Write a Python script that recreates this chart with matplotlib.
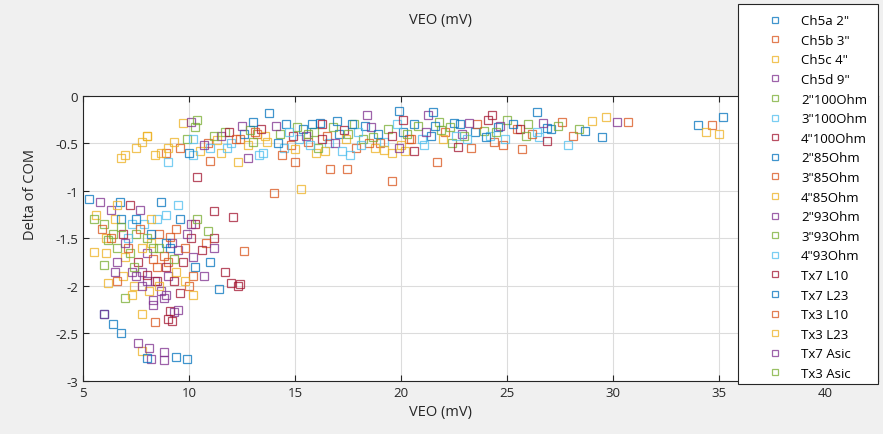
import matplotlib
matplotlib.use("Agg")
import matplotlib.pyplot as plt
from matplotlib.patches import Rectangle

plt.rcParams["font.family"] = ["Open Sans", "DejaVu Sans"]

# MATLAB default colour order, cycled over the 19 series
matlab_colors = ["#0072BD", "#D95319", "#EDB120", "#7E2F8E",
                 "#77AC30", "#4DBEEE", "#A2142F"]

labels = ['Ch5a 2"', 'Ch5b 3"', 'Ch5c 4"', 'Ch5d 9"',
          '2"100Ohm', '3"100Ohm', '4"100Ohm',
          '2"85Ohm', '3"85Ohm', '4"85Ohm',
          '2"93Ohm', '3"93Ohm', '4"93Ohm',
          'Tx7 L10', 'Tx7 L23', 'Tx3 L10', 'Tx3 L23', 'Tx7 Asic', 'Tx3 Asic']

ch5a_x = [13.8, 14.6, 15.4, 16.2, 17.1, 18.3, 19.9, 20.6, 21.4, 22.8, 23.5, 24.6, 26.4, 26.9, 34.0, 35.2, 6.4, 6.8]
ch5a_y = [-0.18, -0.30, -0.35, -0.28, -0.40, -0.32, -0.16, -0.30, -0.42, -0.30, -0.38, -0.33, -0.17, -0.34, -0.31, -0.22, -2.40, -2.50]

ch5b_x = [9.6, 10.9, 12.4, 13.2, 14.0, 14.8, 15.6, 16.5, 17.9, 19.0, 20.4, 22.1, 23.3, 24.4, 25.5, 27.6, 28.1, 8.4, 9.0, 8.6]
ch5b_y = [-0.55, -0.50, -0.45, -0.40, -1.02, -0.52, -0.48, -0.42, -0.55, -0.50, -0.45, -0.38, -0.55, -0.48, -0.35, -0.27, -0.42, -2.38, -1.75, -1.45]

ch5c_x = [7.5, 8.0, 8.4, 9.3, 10.5, 11.3, 12.8, 13.6, 15.3, 16.0, 17.4, 18.8, 19.6, 20.2, 29.0, 29.7, 7.8, 7.8, 8.2, 7.0, 6.5]
ch5c_y = [-0.55, -0.42, -0.62, -0.48, -0.58, -0.46, -0.52, -0.42, -0.98, -0.60, -0.45, -0.55, -0.60, -0.58, -0.26, -0.22, -2.30, -2.68, -1.55, -1.70, -1.30]

ch5d_x = [7.6, 8.8, 8.8, 9.3, 8.8, 8.3, 7.8, 8.4, 9.0, 8.0, 6.3, 7.3, 9.5, 10.2, 11.5, 18.6, 21.3, 22.9, 30.2]
ch5d_y = [-2.60, -2.70, -2.78, -2.27, -2.13, -2.15, -1.85, -1.95, -1.90, -1.65, -1.20, -1.85, -1.62, -1.70, -0.42, -0.33, -0.20, -0.40, -0.27]

c100_2_x = [10.3, 11.7, 13.0, 14.3, 15.9, 16.8, 17.8, 18.2, 19.4, 20.8, 21.8, 22.4, 23.9, 25.0, 26.0, 7.0, 6.6, 7.5, 6.0]
c100_2_y = [-0.33, -0.38, -0.48, -0.40, -0.38, -0.33, -0.30, -0.45, -0.35, -0.32, -0.27, -0.50, -0.37, -0.25, -0.30, -2.13, -1.60, -1.45, -1.35]

c100_3_x = [9.0, 10.2, 11.0, 12.0, 13.5, 14.5, 15.2, 16.6, 17.6, 18.0, 19.2, 21.0, 23.1, 24.2, 26.5, 7.9, 7.1, 8.9]
c100_3_y = [-0.70, -0.62, -0.55, -0.50, -0.60, -0.55, -0.45, -0.50, -0.62, -0.38, -0.48, -0.45, -0.45, -0.42, -0.43, -1.35, -1.50, -1.25]

c100_4_x = [10.4, 11.9, 13.4, 14.9, 16.3, 17.3, 19.6, 20.6, 22.7, 24.1, 25.6, 26.9, 9.1, 9.6, 12.0, 12.3, 10.3, 11.2, 12.1]
c100_4_y = [-0.85, -0.38, -0.35, -0.42, -0.45, -0.36, -0.42, -0.58, -0.54, -0.25, -0.35, -0.47, -2.26, -2.07, -1.97, -2.00, -1.35, -1.50, -1.27]

c85_2_x = [10.0, 12.6, 14.2, 15.8, 17.0, 18.9, 20.1, 21.5, 22.5, 24.0, 25.3, 27.1, 28.7, 29.5, 11.4, 9.9, 9.4, 8.7, 6.8, 9.1]
c85_2_y = [-0.60, -0.40, -0.50, -0.30, -0.26, -0.40, -0.38, -0.17, -0.28, -0.43, -0.30, -0.35, -0.37, -0.43, -2.03, -2.77, -2.75, -1.12, -1.30, -1.60]

c85_3_x = [8.9, 11.0, 13.1, 14.4, 16.65, 17.45, 18.5, 19.6, 20.5, 21.7, 23.6, 24.8, 25.7, 26.2, 30.7, 34.7, 8.5, 9.4, 10.0, 10.8, 12.6]
c85_3_y = [-0.60, -0.68, -0.38, -0.62, -0.77, -0.77, -0.50, -0.89, -0.45, -0.70, -0.30, -0.52, -0.56, -0.40, -0.27, -0.31, -1.80, -1.40, -2.00, -1.55, -1.63]

c85_4_x = [6.8, 7.0, 7.8, 9.0, 11.5, 12.3, 13.7, 15.0, 16.4, 19.2, 20.0, 22.0, 34.4, 35.0, 6.2, 6.9, 7.4, 8.1, 6.1, 5.5]
c85_4_y = [-0.65, -0.62, -0.48, -0.55, -0.60, -0.70, -0.48, -0.56, -0.58, -0.57, -0.52, -0.45, -0.38, -0.40, -1.97, -1.90, -2.00, -2.05, -1.50, -1.64]

c93_2_x = [10.7, 12.5, 14.1, 15.5, 16.9, 18.4, 19.9, 21.2, 23.2, 24.7, 26.7, 8.1, 8.2, 8.0, 8.7, 9.2, 5.8, 6.6, 7.7]
c93_2_y = [-0.52, -0.32, -0.32, -0.42, -0.50, -0.20, -0.55, -0.38, -0.28, -0.32, -0.28, -2.65, -2.77, -1.95, -2.05, -1.55, -1.12, -1.75, -1.20]

c93_3_x = [9.9, 11.2, 12.9, 15.1, 16.1, 17.5, 18.7, 20.3, 21.9, 23.0, 24.5, 25.9, 27.4, 28.4, 6.4, 7.2, 6.0, 8.3]
c93_3_y = [-0.45, -0.42, -0.36, -0.33, -0.55, -0.40, -0.43, -0.40, -0.36, -0.42, -0.38, -0.42, -0.32, -0.35, -1.45, -1.65, -1.78, -1.60]

c93_4_x = [10.2, 11.8, 13.3, 14.7, 15.7, 17.2, 18.1, 19.8, 21.1, 22.6, 24.9, 26.4, 27.9, 8.5, 9.5, 7.3]
c93_4_y = [-0.45, -0.55, -0.62, -0.38, -0.52, -0.58, -0.52, -0.30, -0.52, -0.42, -0.45, -0.38, -0.52, -1.30, -1.15, -1.35]

tx7l10_x = [6.9, 7.2, 7.6, 8.0, 8.5, 8.9, 9.3, 9.7, 10.1, 10.6, 11.2, 11.7, 12.4, 9.0, 9.2, 16.3, 20.1, 24.3]
tx7l10_y = [-1.45, -1.15, -1.75, -1.88, -1.95, -1.80, -1.95, -1.75, -1.50, -1.62, -1.21, -1.85, -1.98, -2.35, -2.37, -0.30, -0.25, -0.20]

tx7l23_x = [5.3, 6.75, 7.5, 8.2, 8.9, 9.6, 10.3, 11.0, 8.0, 6.0, 13.0, 17.7, 21.6]
tx7l23_y = [-1.08, -1.12, -1.30, -1.45, -1.55, -1.30, -1.80, -1.75, -2.76, -2.30, -0.27, -0.30, -0.32]

tx3l10_x = [5.9, 6.6, 7.1, 7.7, 8.3, 8.8, 9.1, 9.8, 10.2, 6.3, 12.2, 15.0]
tx3l10_y = [-1.40, -1.95, -1.60, -1.40, -1.72, -1.68, -1.48, -1.60, -1.90, -1.50, -0.45, -0.70]

tx3l23_x = [5.6, 6.1, 6.6, 7.3, 7.8, 8.2, 8.6, 9.4, 9.8, 10.2, 8.0, 8.7, 9.7]
tx3l23_y = [-1.25, -1.65, -1.15, -2.10, -1.60, -1.30, -2.00, -1.85, -1.95, -2.10, -0.42, -0.60, -0.28]

tx7asic_x = [6.0, 6.5, 7.0, 7.8, 8.3, 8.9, 9.5, 9.9, 10.7, 11.2, 10.1, 7.5, 10.1, 12.8]
tx7asic_y = [-2.30, -1.85, -1.55, -2.00, -2.20, -2.10, -2.25, -1.45, -1.89, -1.60, -1.35, -1.90, -0.27, -0.65]

tx3asic_x = [5.5, 6.2, 6.8, 7.4, 8.0, 8.6, 9.3, 10.4, 10.9, 10.4, 15.6, 22.3]
tx3asic_y = [-1.30, -1.52, -1.38, -1.80, -1.50, -1.60, -1.72, -1.30, -1.42, -0.25, -0.40, -0.33]

series_x = [ch5a_x, ch5b_x, ch5c_x, ch5d_x, c100_2_x, c100_3_x, c100_4_x,
            c85_2_x, c85_3_x, c85_4_x, c93_2_x, c93_3_x, c93_4_x,
            tx7l10_x, tx7l23_x, tx3l10_x, tx3l23_x, tx7asic_x, tx3asic_x]
series_y = [ch5a_y, ch5b_y, ch5c_y, ch5d_y, c100_2_y, c100_3_y, c100_4_y,
            c85_2_y, c85_3_y, c85_4_y, c93_2_y, c93_3_y, c93_4_y,
            tx7l10_y, tx7l23_y, tx3l10_y, tx3l23_y, tx7asic_y, tx3asic_y]

fig = plt.figure(figsize=(8.83, 4.35), dpi=100, facecolor="#f0f0f0")
ax = fig.add_axes([0.094, 0.122, 0.900, 0.655])

handles = []
for i, (xs, ys, lab) in enumerate(zip(series_x, series_y, labels)):
    h, = ax.plot(xs, ys, linestyle="none", marker="s", markersize=5.5,
                 markerfacecolor="none", markeredgewidth=0.9,
                 color=matlab_colors[i % 7], alpha=0.75, label=lab)
    handles.append(h)

ax.set_xlim(5, 42.5)
ax.set_ylim(-3, 0)
ax.set_xticks([5, 10, 15, 20, 25, 30, 35, 40])
ax.set_yticks([-3, -2.5, -2, -1.5, -1, -0.5, 0])
ax.set_yticklabels(["-3", "-2.5", "-2", "-1.5", "-1", "-0.5", "0"])
ax.grid(True, color="#dcdcdc", linewidth=0.8)
ax.set_axisbelow(True)
ax.tick_params(direction="in", length=4, labelsize=9.5, colors="#262626",
               top=True, right=True)
for sp in ax.spines.values():
    sp.set_color("#262626")
    sp.set_linewidth(0.8)

fig.text(0.0345, 0.553, "Delta of COM", rotation=90, ha="center", va="center",
         fontsize=10.5, color="#262626")
fig.text(0.499, 0.052, "VEO (mV)", ha="center", va="center",
         fontsize=10.5, color="#262626")
fig.text(0.499, 0.953, "VEO (mV)", ha="center", va="center",
         fontsize=10.5, color="#262626")

# legend box drawn over the right part of the axes, as in the MATLAB figure
box = Rectangle((0.836, 0.115), 0.158, 0.874, transform=fig.transFigure,
                facecolor="white", edgecolor="#262626", linewidth=0.8,
                zorder=5)
fig.patches.append(box)

leg = fig.legend(handles, labels, loc="upper left",
                 bbox_to_anchor=(0.8625, 0.965), fontsize=9.5,
                 frameon=False, borderpad=0, borderaxespad=0,
                 labelspacing=0.5, handlelength=2.0, handletextpad=1.0,
                 markerscale=0.8)
leg.set_zorder(6)

fig.savefig("out.png", dpi=100, facecolor=fig.get_facecolor())
